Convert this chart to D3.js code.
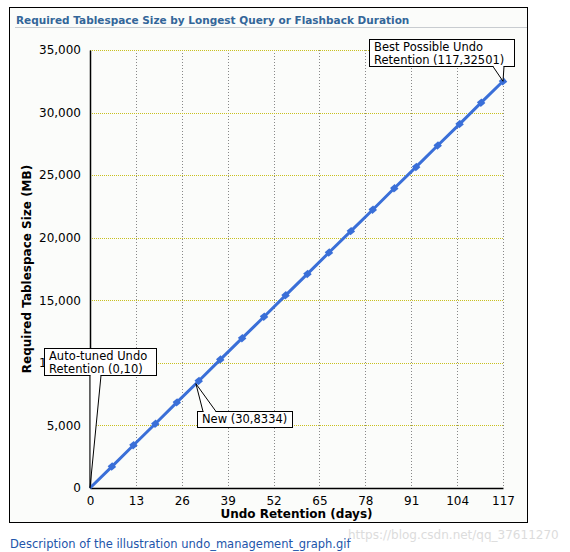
<!DOCTYPE html>
<html>
<head>
<meta charset="utf-8">
<script src="https://cdn.jsdelivr.net/npm/d3@7"></script>
<style>
  body { margin: 0; background: #fff; }
  svg text { font-family: "DejaVu Sans", sans-serif; }
</style>
</head>
<body>
<div id="chart"></div>
<script>
// Data
const retentionDays = [0, 6.2, 12.3, 18.5, 24.6, 30.8, 36.9, 43.1, 49.3, 55.4, 61.6, 67.7, 73.9, 80.1, 86.2, 92.4, 98.5, 104.7, 110.8, 117];
const tablespaceMB = [0, 1711, 3421, 5132, 6842, 8553, 10263, 11974, 13685, 15395, 17106, 18816, 20527, 22237, 23948, 25658, 27369, 29080, 30790, 32501];
const xTicks = [0, 13, 26, 39, 52, 65, 78, 91, 104, 117];
const yTicks = [0, 5000, 10000, 15000, 20000, 25000, 30000, 35000];
const callouts = [
  { lines: ["Auto-tuned Undo", "Retention (0,10)"], x: 0, y: 10 },
  { lines: ["New (30,8334)"], x: 30, y: 8334 },
  { lines: ["Best Possible Undo", "Retention (117,32501)"], x: 117, y: 32501 }
];

const W = 570, H = 552;
const svg = d3.select("#chart").append("svg")
    .attr("width", W)
    .attr("height", H);

// Frame
svg.append("rect")
    .attr("x", 9.5).attr("y", 7.5)
    .attr("width", 518).attr("height", 515)
    .attr("fill", "#fbfcfa")
    .attr("stroke", "#000");

// Title
svg.append("text")
    .attr("x", 16).attr("y", 24)
    .attr("font-size", 10.5)
    .attr("font-weight", "bold")
    .attr("fill", "#336699")
    .text("Required Tablespace Size by Longest Query or Flashback Duration");
svg.append("line")
    .attr("x1", 15).attr("x2", 527)
    .attr("y1", 27.5).attr("y2", 27.5)
    .attr("stroke", "#c8ccd0");

// Scales
const x = d3.scaleLinear().domain([0, 117]).range([90, 503]);
const y = d3.scaleLinear().domain([0, 35000]).range([488, 50]);

// Grid
const grid = svg.append("g");
grid.selectAll(".vgrid")
  .data(xTicks.slice(1))
  .enter().append("line")
    .attr("x1", d => Math.round(x(d)) + 0.5)
    .attr("x2", d => Math.round(x(d)) + 0.5)
    .attr("y1", y(35000)).attr("y2", y(0))
    .attr("stroke", "#888")
    .attr("stroke-dasharray", "1,2");
grid.selectAll(".hgrid")
  .data(yTicks.slice(1))
  .enter().append("line")
    .attr("x1", x(0)).attr("x2", x(117))
    .attr("y1", d => Math.round(y(d)) + 0.5)
    .attr("y2", d => Math.round(y(d)) + 0.5)
    .attr("stroke", "#c8c020")
    .attr("stroke-dasharray", "1,1");

// Axes
const xAxis = svg.append("g")
    .attr("transform", `translate(0,${y(0)})`)
    .call(d3.axisBottom(x).tickValues(xTicks).tickSize(0).tickPadding(8));
const yAxis = svg.append("g")
    .attr("transform", `translate(${x(0)},0)`)
    .call(d3.axisLeft(y).tickValues(yTicks).tickSize(0).tickPadding(9).tickFormat(d3.format(",")));
[xAxis, yAxis].forEach(a => {
  a.select(".domain").attr("stroke", "#000").attr("stroke-width", 1.5);
  a.selectAll("text").attr("font-size", 12).attr("fill", "#000")
    .attr("font-family", "DejaVu Sans, sans-serif");
});

// Axis titles
svg.append("text")
    .attr("x", (x(0) + x(117)) / 2).attr("y", 518)
    .attr("text-anchor", "middle")
    .attr("font-size", 12).attr("font-weight", "bold")
    .text("Undo Retention (days)");
svg.append("text")
    .attr("transform", `translate(31,${(y(0) + y(35000)) / 2}) rotate(-90)`)
    .attr("text-anchor", "middle")
    .attr("font-size", 12).attr("font-weight", "bold")
    .text("Required Tablespace Size (MB)");

// Series
const pts = retentionDays.map((d, i) => [d, tablespaceMB[i]]);
svg.append("path")
    .datum(pts)
    .attr("fill", "none")
    .attr("stroke", "#3a6fd8")
    .attr("stroke-width", 3)
    .attr("d", d3.line().x(d => x(d[0])).y(d => y(d[1])));
svg.selectAll(".dot")
  .data(pts.slice(1))
  .enter().append("rect")
    .attr("x", d => x(d[0]) - 3)
    .attr("y", d => y(d[1]) - 3)
    .attr("width", 6).attr("height", 6)
    .attr("transform", d => `rotate(-40,${x(d[0])},${y(d[1])})`)
    .attr("fill", "#3a6fd8");

// Callouts
const boxes = [
  { bx: 44, by: 348, bw: 112, bh: 27, t1: 90, t2: 101 },
  { bx: 197, by: 411, bw: 95, bh: 16, t1: 203, t2: 216 },
  { bx: 369, by: 39, bw: 145, bh: 27, t1: 493, t2: 504 }
];
callouts.forEach((c, i) => {
  const b = boxes[i];
  const px = x(c.x), py = y(c.y);
  const g = svg.append("g");
  const top = py < b.by;
  const edge = top ? b.by : b.by + b.bh;
  g.append("rect")
      .attr("x", b.bx + 0.5).attr("y", b.by + 0.5)
      .attr("width", b.bw).attr("height", b.bh)
      .attr("fill", "#fff").attr("stroke", "#000");
  g.append("path")
      .attr("d", `M${b.t1},${edge + 0.5}L${px},${py}L${b.t2},${edge + 0.5}`)
      .attr("fill", "#fff").attr("stroke", "#000");
  g.append("line")
      .attr("x1", b.t1 + 1).attr("x2", b.t2 - 1)
      .attr("y1", edge + 0.5).attr("y2", edge + 0.5)
      .attr("stroke", "#fff").attr("stroke-width", 1.5);
  c.lines.forEach((l, j) => {
    g.append("text")
        .attr("x", b.bx + 5).attr("y", b.by + 12 + j * 13)
        .attr("font-size", 11.5)
        .text(l);
  });
});

// Caption and watermark
svg.append("text")
    .attr("x", 10).attr("y", 548)
    .attr("font-size", 11.5)
    .attr("font-family", "Liberation Sans, Arial, sans-serif")
    .attr("fill", "#2255aa")
    .text("Description of the illustration undo_management_graph.gif");
svg.append("text")
    .attr("x", 348).attr("y", 539)
    .attr("font-size", 12)
    .attr("font-family", "Liberation Sans, Arial, sans-serif")
    .attr("fill", "#dcdcdc")
    .text("https://blog.csdn.net/qq_37611270");
</script>
</body>
</html>
